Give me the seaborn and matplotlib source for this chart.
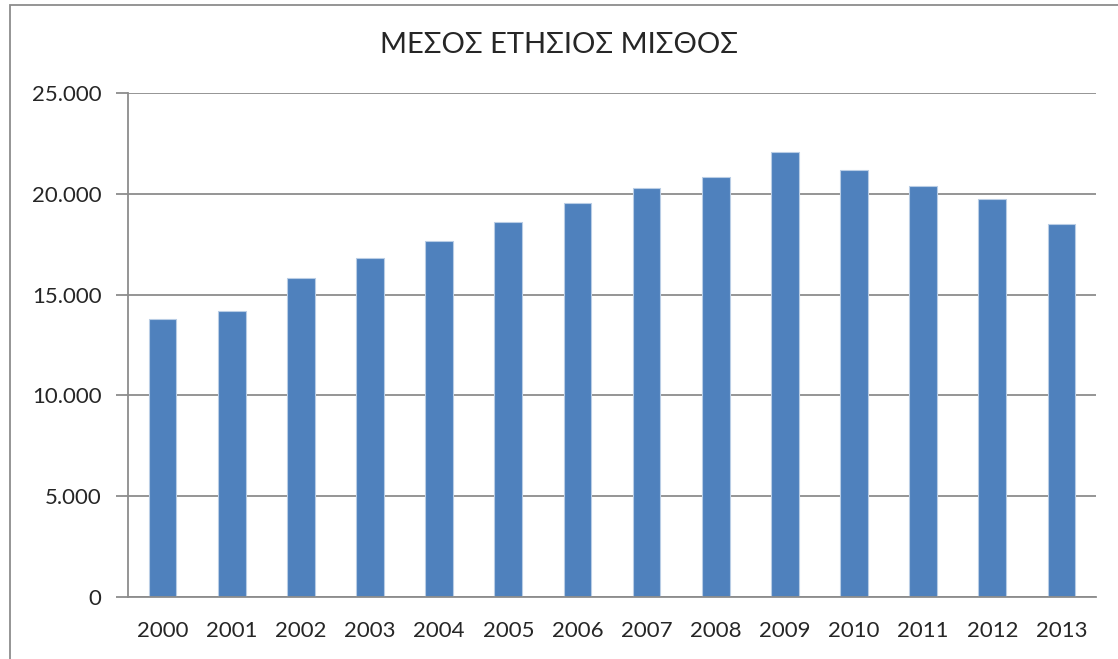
import numpy as np
import pandas as pd
import seaborn as sns
import matplotlib.pyplot as plt
from matplotlib.patches import Rectangle
from matplotlib.ticker import FuncFormatter, MultipleLocator

years = ["2000", "2001", "2002", "2003", "2004", "2005", "2006",
         "2007", "2008", "2009", "2010", "2011", "2012", "2013"]
salary = [13790, 14190, 15805, 16830, 17675, 18585, 19565,
          20295, 20855, 22060, 21200, 20405, 19760, 18485]

title = "ΜΕΣΟΣ ΕΤΗΣΙΟΣ ΜΙΣΘΟΣ"

sns.set_style("white")
plt.rcParams["font.family"] = ["Lato", "DejaVu Sans"]

df = pd.DataFrame({"year": years, "salary": salary})

fig = plt.figure(figsize=(11.18, 6.59), dpi=100)
ax = fig.add_axes([128 / 1118, 1 - 597 / 659, (1096 - 128) / 1118, (597 - 93) / 659])

grid_color = "#8c8c8c"

sns.barplot(
    data=df,
    x="year",
    y="salary",
    color="#4f81bd",
    saturation=1,
    width=0.4,
    edgecolor="#b9cde5",
    linewidth=0.8,
    ax=ax
)

ax.set_ylim(0, 25000)
ax.set_xlim(-0.5, len(years) - 0.5)
ax.yaxis.set_major_locator(MultipleLocator(5000))
ax.yaxis.set_major_formatter(
    FuncFormatter(lambda v, p: f"{int(v):,}".replace(",", "."))
)
ax.grid(axis="y", color=grid_color, linewidth=1.3)
ax.set_axisbelow(True)

# category boundary ticks on the x axis
ax.set_xticks(np.arange(len(years)))
ax.set_xticklabels(years)
ax.set_xticks(np.arange(-0.5, len(years)), minor=True)
ax.tick_params(axis="x", which="major", length=0, pad=17, labelsize=16)
ax.tick_params(axis="x", which="minor", length=8, width=1.3,
               color=grid_color, direction="out")
ax.tick_params(axis="y", length=9, width=1.3, color=grid_color,
               direction="out", pad=10, labelsize=16)
ax.tick_params(axis="both", bottom=True, left=True)

for side in ["top", "right"]:
    ax.spines[side].set_visible(False)
for side in ["left", "bottom"]:
    ax.spines[side].set_color(grid_color)
    ax.spines[side].set_linewidth(1.3)

ax.set_xlabel("")
ax.set_ylabel("")

fig.text(0.5, 1 - 45 / 659, title, ha="center", va="center", fontsize=21)

# outer chart frame
fig.patches.append(
    Rectangle((10 / 1118, -0.05), 1.2, 1 - 5 / 659 + 0.05,
              transform=fig.transFigure, fill=False,
              edgecolor="#8c8c8c", linewidth=1.3)
)

fig.savefig("out.png", dpi=100)
